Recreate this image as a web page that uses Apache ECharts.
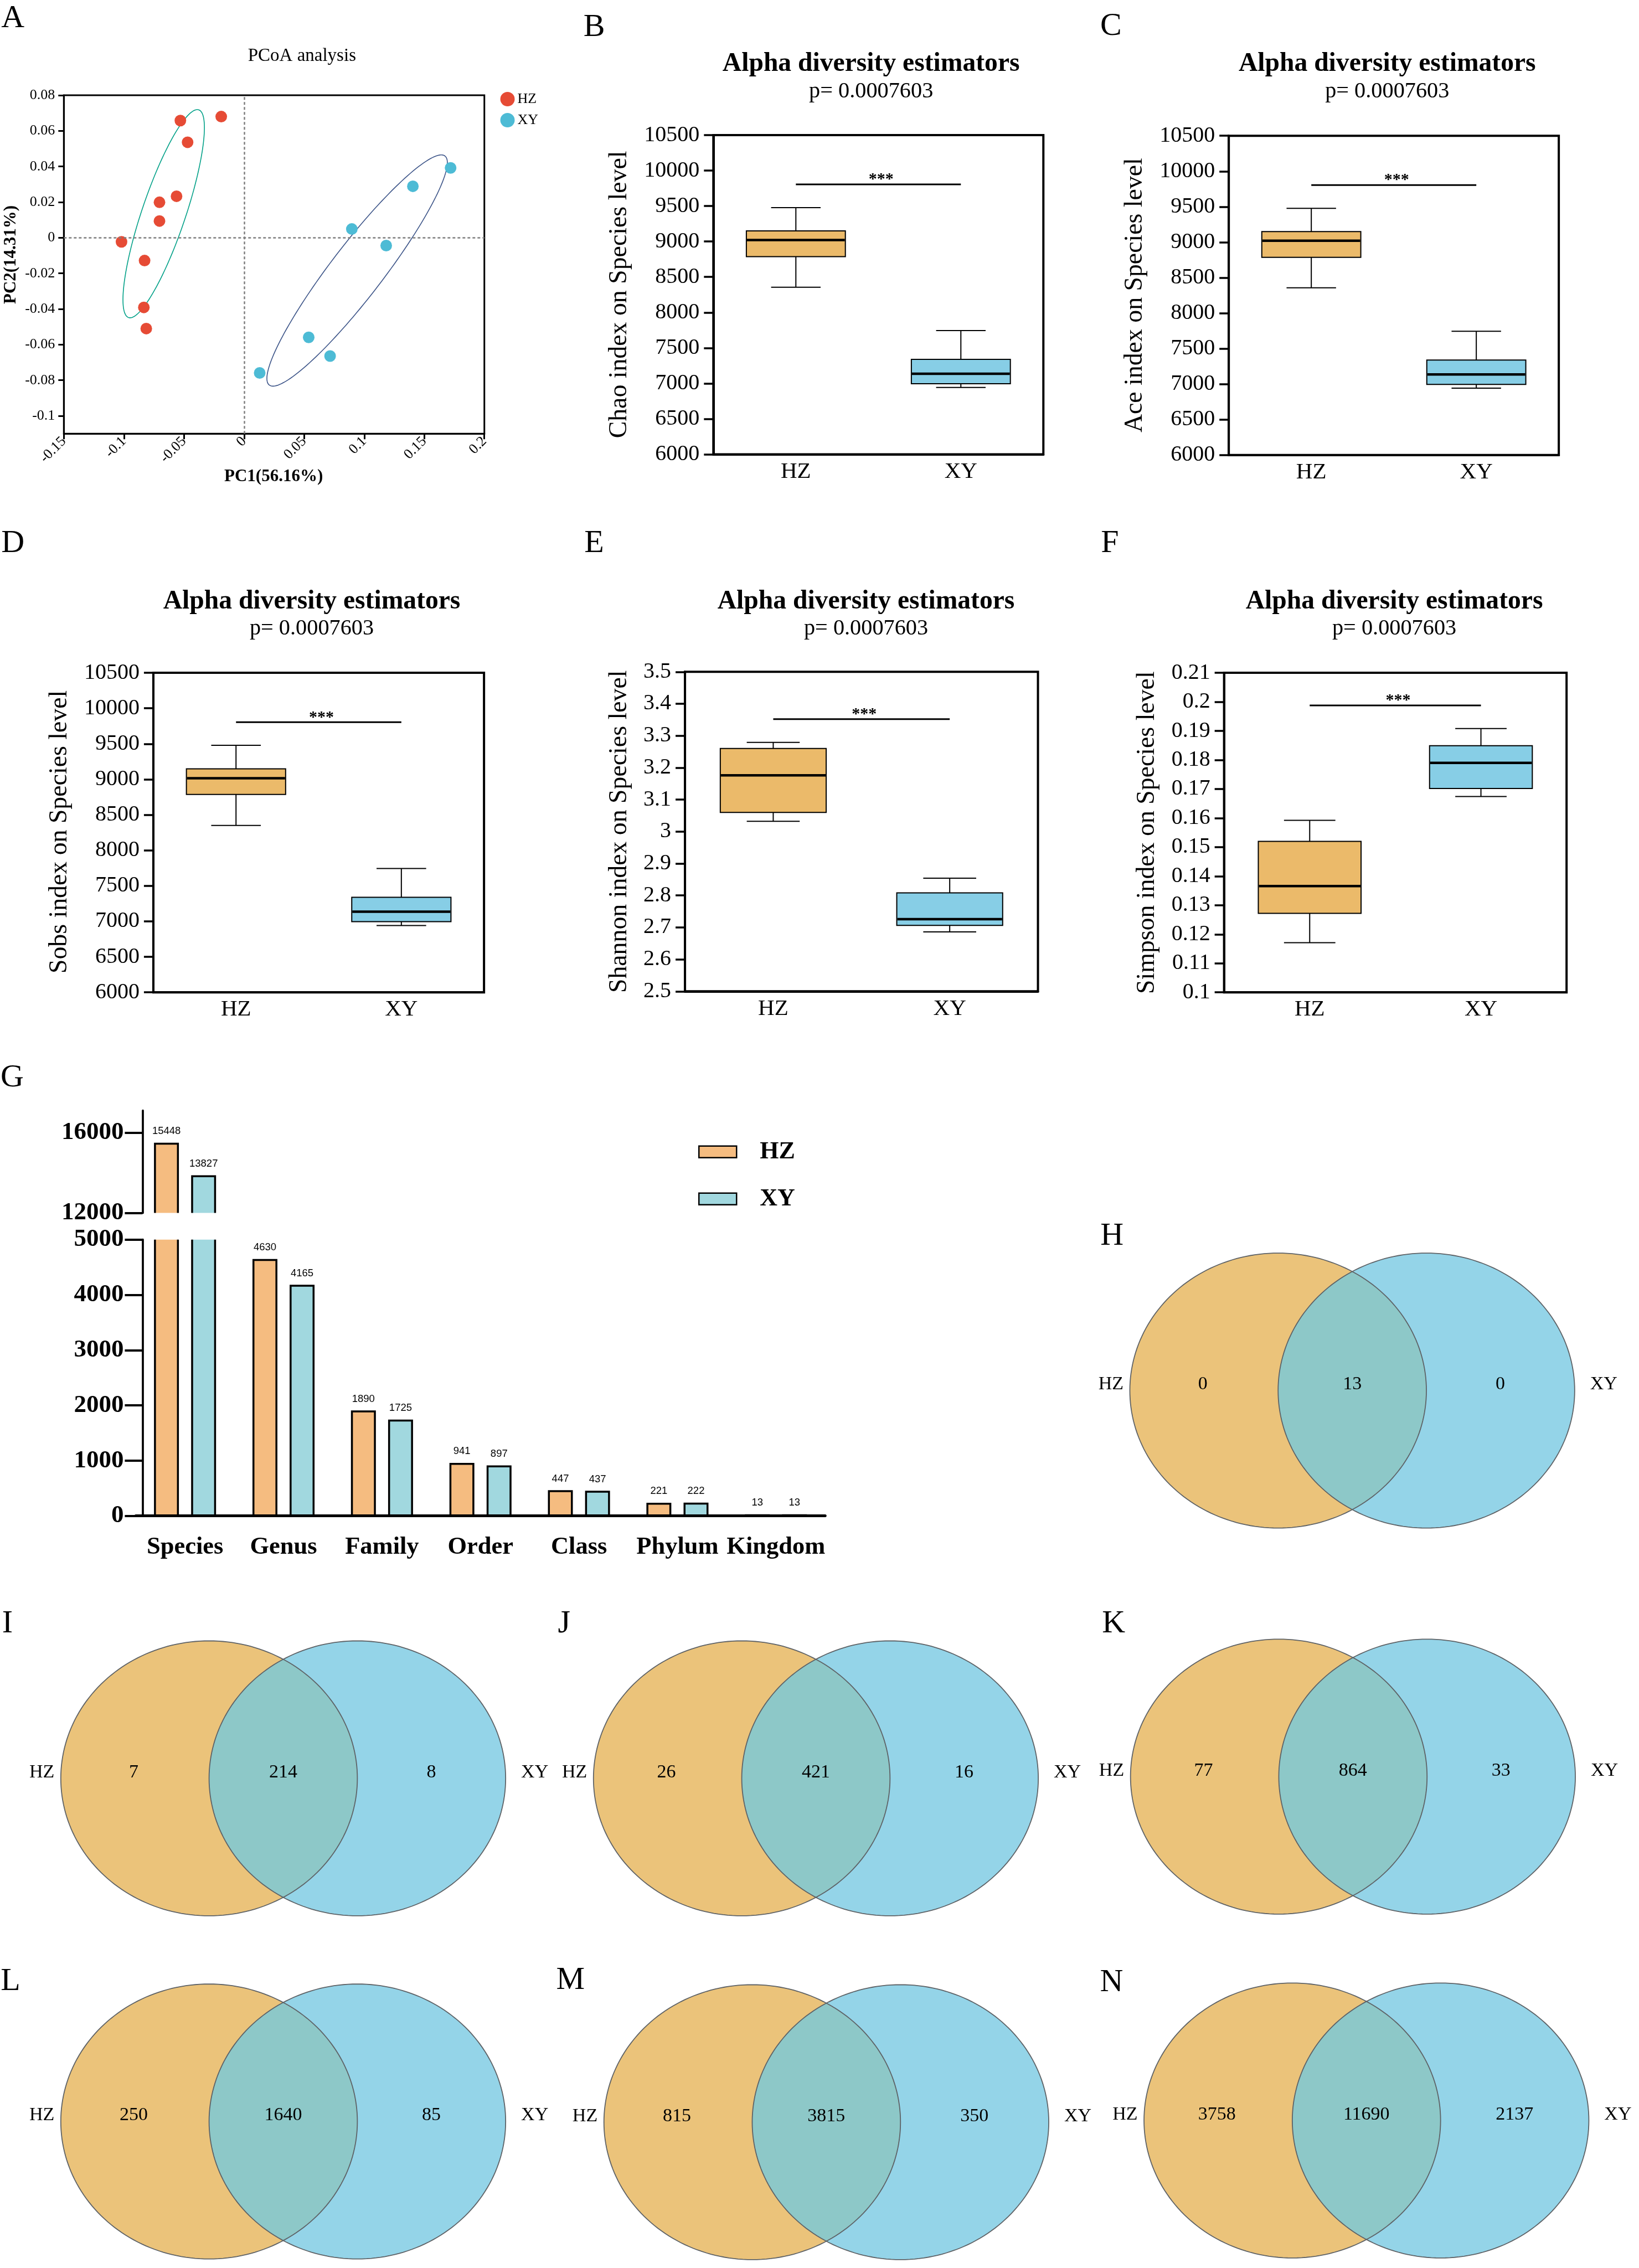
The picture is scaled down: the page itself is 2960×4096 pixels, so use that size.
<!DOCTYPE html>
<html><head><meta charset="utf-8">
<script src="https://cdn.jsdelivr.net/npm/echarts@6/dist/echarts.min.js"></script>
<style>html,body{margin:0;padding:0;background:#fff}#c{width:2960px;height:4096px}</style>
</head><body><div id="c"></div>
<script>
// ================= DATA =================
const groups = ['HZ', 'XY'];

// A: PCoA sample scores [PC1, PC2]
const pcoaHZ = [[-0.053,0.0658],[-0.019,0.068],[-0.047,0.0536],[-0.0562,0.0233],[-0.0704,0.0199],
                [-0.0704,0.0094],[-0.102,-0.0023],[-0.0828,-0.0128],[-0.0834,-0.0391],[-0.0814,-0.051]];
const pcoaXY = [[0.1719,0.0392],[0.1405,0.0289],[0.0897,0.0049],[0.1183,-0.0044],
                [0.0538,-0.0559],[0.0716,-0.0664],[0.0130,-0.0759]];
// confidence ellipses: centre x, centre y, semi-major vector (x,y), semi-minor vector (x,y)
const ellipseHZ = [-0.0669, 0.0135, 0.0292, 0.0583, 0.0172, -0.0039];
const ellipseXY = [0.0941, -0.0184, 0.0731, 0.0643, 0.0172, -0.00886];
const pcoaYTicks = [-0.1,-0.08,-0.06,-0.04,-0.02,0,0.02,0.04,0.06,0.08];

// B-F: box plots [min, Q1, median, Q3, max]
const chaoHZ = [8356, 8787, 9021, 9149, 9478];
const chaoXY = [6942, 6995, 7136, 7339, 7744];
const aceHZ = [8356, 8787, 9021, 9149, 9478];
const aceXY = [6942, 6995, 7136, 7339, 7744];
const sobsHZ = [8351, 8787, 9016, 9148, 9479];
const sobsXY = [6942, 6995, 7136, 7339, 7744];
const shannonHZ = [3.032, 3.060, 3.176, 3.260, 3.279];
const shannonXY = [2.686, 2.7065, 2.726, 2.808, 2.854];
const simpsonHZ = [0.1171, 0.1272, 0.1366, 0.1520, 0.1592];
const simpsonXY = [0.1674, 0.1702, 0.1790, 0.1849, 0.1908];
const sigChao = 9805, sigAce = 9805, sigSobs = 9804, sigShannon = 3.352, sigSimpson = 0.1988;
const pText = 'p= 0.0007603';

// G: taxa counts
const taxLevels = ['Species','Genus','Family','Order','Class','Phylum','Kingdom'];
const countsHZ = [15448, 4630, 1890, 941, 447, 221, 13];
const countsXY = [13827, 4165, 1725, 897, 437, 222, 13];
const upperTicks = [12000, 16000];

// H-N: Venn counts
const vennPanels = ['H','I','J','K','L','M','N'];
const vennHZonly = [0, 7, 26, 77, 250, 815, 3758];
const vennShared = [13, 214, 421, 864, 1640, 3815, 11690];
const vennXYonly = [0, 8, 16, 33, 85, 350, 2137];

// ================= LAYOUT (reference pixels, scaled by S) =================
const S = 0.61;
const px = v => v * S;
const SERIF = '"Liberation Serif", "Times New Roman", serif';
const SANS = '"Liberation Sans", Arial, sans-serif';
const plainInt = v => String(Math.round(v));
function gridBox(l, t, r, b, extra) {
  return Object.assign({left: px(l), top: px(t), width: px(r - l), height: px(b - t)}, extra || {});
}
const frame = {show: true, borderColor: '#000', borderWidth: 4, backgroundColor: 'transparent'};
const grids = [
  gridBox(189, 282, 1434, 1284, {show: true, borderColor: '#000', borderWidth: 3}), // A
  gridBox(2112, 400, 3089, 1345, frame),  // B
  gridBox(3638, 402, 4615, 1347, frame),  // C
  gridBox(454, 1992, 1433, 2938, frame),  // D
  gridBox(2028, 1989, 3073, 2935, frame), // E
  gridBox(3624, 1992, 4638, 2938, frame), // F
  gridBox(402, 3288, 2443, 3591),         // G upper
  gridBox(402, 3670, 2443, 4488)          // G lower
];
const vennCenters = [[3784,4117],[619,5265],[2196,5265],[3786,5260],[619,6281],[2227,6283],[3826,6278]];

const boxColors = ['#EBBA6A', '#87CEE6'];
const barColors = ['#F5BC80', '#A1D8DF'];

const xAxes = [], yAxes = [], series = [];

// ---------- A: PCoA ----------
xAxes.push({gridIndex: 0, type: 'value', min: -0.15, max: 0.2, interval: 0.05,
  axisLine: {onZero: false, lineStyle: {color: '#000', width: 3}},
  axisTick: {length: 10, lineStyle: {color: '#000', width: 3}},
  axisLabel: {rotate: 45, color: '#000', fontSize: 26, fontFamily: SERIF, margin: 10},
  splitLine: {show: false}});
yAxes.push({gridIndex: 0, type: 'value', min: -0.11, max: 0.08,
  axisLine: {show: true, onZero: false, lineStyle: {color: '#000', width: 3}},
  axisTick: {show: true, length: 10, customValues: pcoaYTicks, lineStyle: {color: '#000', width: 3}},
  axisLabel: {customValues: pcoaYTicks, color: '#000', fontSize: 26, fontFamily: SERIF, margin: 16},
  splitLine: {show: false}});
series.push({type: 'line', xAxisIndex: 0, yAxisIndex: 0, data: [], z: 1, silent: true,
  markLine: {silent: true, symbol: 'none', label: {show: false},
    lineStyle: {color: '#7F7F7F', type: [5, 4], width: 2.5},
    data: [{xAxis: 0}, {yAxis: 0}]}});
const ellColors = ['#00A087', '#3C5488'];
series.push({type: 'custom', name: 'ellipses', xAxisIndex: 0, yAxisIndex: 0, z: 2,
  data: [ellipseHZ, ellipseXY],
  renderItem: function (params, api) {
    const e = [0,1,2,3,4,5].map(k => api.value(k));
    const pts = [];
    for (let k = 0; k < 160; k++) {
      const t = k / 160 * 2 * Math.PI;
      pts.push(api.coord([e[0] + e[2] * Math.cos(t) + e[4] * Math.sin(t),
                          e[1] + e[3] * Math.cos(t) + e[5] * Math.sin(t)]));
    }
    return {type: 'polygon', shape: {points: pts},
      style: {fill: 'none', stroke: ellColors[params.dataIndex], lineWidth: 1.6}};
  }});
series.push({type: 'scatter', name: 'HZ', xAxisIndex: 0, yAxisIndex: 0, z: 3, data: pcoaHZ,
  symbolSize: 21, itemStyle: {color: '#E64B35', opacity: 1}});
series.push({type: 'scatter', name: 'XY', xAxisIndex: 0, yAxisIndex: 0, z: 3, data: pcoaXY,
  symbolSize: 21, itemStyle: {color: '#4DBBD5', opacity: 1}});

// ---------- B-F: box plots ----------
const boxPanels = [
  {grid: 1, hz: chaoHZ, xy: chaoXY, min: 6000, max: 10500, step: 500, sig: sigChao, fmt: plainInt},
  {grid: 2, hz: aceHZ, xy: aceXY, min: 6000, max: 10500, step: 500, sig: sigAce, fmt: plainInt},
  {grid: 3, hz: sobsHZ, xy: sobsXY, min: 6000, max: 10500, step: 500, sig: sigSobs, fmt: plainInt},
  {grid: 4, hz: shannonHZ, xy: shannonXY, min: 2.5, max: 3.5, step: 0.1, sig: sigShannon, fmt: null},
  {grid: 5, hz: simpsonHZ, xy: simpsonXY, min: 0.1, max: 0.21, step: 0.01, sig: sigSimpson, fmt: null}
];
function boxRender(params, api) {
  const cat = api.value(0);
  const v = [1,2,3,4,5].map(k => api.value(k));
  const band = api.size([1, 0])[0];
  const x = api.coord([cat, v[2]])[0];
  const y = val => api.coord([cat, val])[1];
  const bw = band * 0.6, cw = band * 0.3;
  const ls = {stroke: '#000', lineWidth: 2};
  return {type: 'group', children: [
    {type: 'line', shape: {x1: x, y1: y(v[4]), x2: x, y2: y(v[3])}, style: ls},
    {type: 'line', shape: {x1: x, y1: y(v[1]), x2: x, y2: y(v[0])}, style: ls},
    {type: 'line', shape: {x1: x - cw / 2, y1: y(v[4]), x2: x + cw / 2, y2: y(v[4])}, style: ls},
    {type: 'line', shape: {x1: x - cw / 2, y1: y(v[0]), x2: x + cw / 2, y2: y(v[0])}, style: ls},
    {type: 'rect', shape: {x: x - bw / 2, y: y(v[3]), width: bw, height: y(v[1]) - y(v[3])},
      style: {fill: boxColors[cat], stroke: '#000', lineWidth: 2}},
    {type: 'line', shape: {x1: x - bw / 2 + 1, y1: y(v[2]), x2: x + bw / 2 - 1, y2: y(v[2])},
      style: {stroke: '#000', lineWidth: 4.5}}
  ]};
}
function sigRender(params, api) {
  const s = api.value(0);
  const p0 = api.coord([0, s]), p1 = api.coord([1, s]);
  return {type: 'group', children: [
    {type: 'line', shape: {x1: p0[0], y1: p0[1], x2: p1[0], y2: p1[1]}, style: {stroke: '#000', lineWidth: 3}},
    {type: 'text', x: (p0[0] + p1[0]) / 2 + 5, y: p0[1] - 8.5,
      style: {text: '***', fontSize: 30, fontWeight: 'bold', fontFamily: SERIF, fill: '#000',
        align: 'center', verticalAlign: 'middle'}}
  ]};
}
boxPanels.forEach(bp => {
  const ai = xAxes.length;
  xAxes.push({gridIndex: bp.grid, type: 'category', data: groups,
    axisLine: {lineStyle: {color: '#000', width: 4}},
    axisTick: {alignWithLabel: true, length: 11, lineStyle: {color: '#000', width: 3.5}},
    axisLabel: {color: '#000', fontSize: 41, fontFamily: SERIF, margin: 11},
    splitLine: {show: false}});
  const yl = {color: '#000', fontSize: 40, fontFamily: SERIF, margin: 25};
  if (bp.fmt) yl.formatter = bp.fmt;
  yAxes.push({gridIndex: bp.grid, type: 'value', min: bp.min, max: bp.max, interval: bp.step,
    axisLine: {show: true, lineStyle: {color: '#000', width: 4}},
    axisTick: {show: true, length: 17, lineStyle: {color: '#000', width: 3.5}},
    axisLabel: yl,
    splitLine: {show: false}});
  series.push({type: 'custom', name: 'box' + bp.grid, xAxisIndex: ai, yAxisIndex: ai, z: 3,
    data: [[0].concat(bp.hz), [1].concat(bp.xy)], renderItem: boxRender});
  series.push({type: 'custom', name: 'sig' + bp.grid, xAxisIndex: ai, yAxisIndex: ai, z: 3,
    data: [[bp.sig]], renderItem: sigRender});
});

// ---------- G: broken-axis bar chart ----------
const gU = xAxes.length;
xAxes.push({gridIndex: 6, type: 'category', data: taxLevels, show: false});
yAxes.push({gridIndex: 6, type: 'value', min: 12000, max: 17100, offset: -px(20),
  axisLine: {show: true, lineStyle: {color: '#000', width: 3.7}},
  axisTick: {show: true, length: 32, customValues: upperTicks, lineStyle: {color: '#000', width: 4}},
  axisLabel: {customValues: upperTicks, formatter: plainInt, color: '#000', fontSize: 45, fontWeight: 'bold', fontFamily: SERIF, margin: 34},
  splitLine: {show: false}});
const gL = xAxes.length;
xAxes.push({gridIndex: 7, type: 'category', data: taxLevels, z: 6,
  axisLine: {lineStyle: {color: '#000', width: 5}},
  axisTick: {alignWithLabel: true, length: 27, lineStyle: {color: '#000', width: 4}},
  axisLabel: {interval: 0, color: '#000', fontSize: 44.5, fontWeight: 'bold', fontFamily: SERIF, margin: 34},
  splitLine: {show: false}});
yAxes.push({gridIndex: 7, type: 'value', min: 0, max: 5000, interval: 1000, offset: -px(20),
  axisLine: {show: true, lineStyle: {color: '#000', width: 3.7}},
  axisTick: {show: true, length: 32, lineStyle: {color: '#000', width: 4}},
  axisLabel: {formatter: plainInt, color: '#000', fontSize: 45, fontWeight: 'bold', fontFamily: SERIF, margin: 34},
  splitLine: {show: false}});

function makeBarRender(sign, color, ymin, ymax) {
  return function (params, api) {
    const cat = api.value(0), v = api.value(1);
    if (v <= ymin) return null;
    const vt = Math.min(v, ymax);
    const top = api.coord([cat, vt]);
    const base = api.coord([cat, ymin]);
    const cx = top[0] + sign * px(55);
    const w = px(68);
    const x0 = cx - w / 2, x1 = cx + w / 2;
    const bs = {stroke: '#000', lineWidth: 3.5, fill: null};
    const ch = [{type: 'rect', shape: {x: x0, y: top[1], width: w, height: base[1] - top[1]}, style: {fill: color}}];
    if (v <= ymax) {
      ch.push({type: 'polyline', shape: {points: [[x0, base[1]], [x0, top[1]], [x1, top[1]], [x1, base[1]]]}, style: bs});
      ch.push({type: 'text', x: cx, y: top[1] - px(37),
        style: {text: String(v), fontSize: 18.5, fontFamily: SANS, fill: '#000', align: 'center', verticalAlign: 'middle'}});
    } else {
      ch.push({type: 'line', shape: {x1: x0, y1: top[1], x2: x0, y2: base[1]}, style: bs});
      ch.push({type: 'line', shape: {x1: x1, y1: top[1], x2: x1, y2: base[1]}, style: bs});
    }
    return {type: 'group', children: ch};
  };
}
const hzBars = countsHZ.map((v, i) => [i, v]);
const xyBars = countsXY.map((v, i) => [i, v]);
series.push({type: 'custom', name: 'HZ', xAxisIndex: gU, yAxisIndex: gU, data: hzBars, itemStyle: {color: barColors[0]},
  renderItem: makeBarRender(-1, barColors[0], 12000, 17100)});
series.push({type: 'custom', name: 'XY', xAxisIndex: gU, yAxisIndex: gU, data: xyBars, itemStyle: {color: barColors[1]},
  renderItem: makeBarRender(1, barColors[1], 12000, 17100)});
series.push({type: 'custom', name: 'HZ', xAxisIndex: gL, yAxisIndex: gL, data: hzBars, itemStyle: {color: barColors[0]},
  renderItem: makeBarRender(-1, barColors[0], 0, 5000)});
series.push({type: 'custom', name: 'XY', xAxisIndex: gL, yAxisIndex: gL, data: xyBars, itemStyle: {color: barColors[1]},
  renderItem: makeBarRender(1, barColors[1], 0, 5000)});

// ---------- H-N: Venn diagrams ----------
function ellPts(cx, cy, rx, ry, t0, t1, n) {
  const pts = [];
  for (let k = 0; k <= n; k++) {
    const t = t0 + (t1 - t0) * k / n;
    pts.push([cx + rx * Math.cos(t), cy + ry * Math.sin(t)]);
  }
  return pts;
}
series.push({type: 'custom', name: 'venn', coordinateSystem: 'none', silent: true,
  data: vennPanels.map((p, i) => [i, vennHZonly[i], vennShared[i], vennXYonly[i]]),
  renderItem: function (params, api) {
    const i = api.value(0);
    const cx = px(vennCenters[i][0]), cy = px(vennCenters[i][1]);
    const rx = px(439), ry = px(407), d = px(439);
    const th = Math.acos(d / (2 * rx));
    const full = 2 * Math.PI;
    const lens = ellPts(cx, cy, rx, ry, -th, th, 60).concat(ellPts(cx + d, cy, rx, ry, Math.PI - th, Math.PI + th, 60));
    const stroke = {fill: 'none', stroke: '#5E6266', lineWidth: 1.8};
    const ty = cy - px(18);
    const txt = (x, s) => ({type: 'text', x: x, y: ty,
      style: {text: String(s), fontSize: 34, fontFamily: SERIF, fill: '#000', align: 'center', verticalAlign: 'middle'}});
    return {type: 'group', children: [
      {type: 'polygon', shape: {points: ellPts(cx, cy, rx, ry, 0, full, 200)}, style: {fill: '#EBC37A'}},
      {type: 'polygon', shape: {points: ellPts(cx + d, cy, rx, ry, 0, full, 200)}, style: {fill: '#94D4E8'}},
      {type: 'polygon', shape: {points: lens}, style: {fill: '#8DC8C8'}},
      {type: 'polygon', shape: {points: ellPts(cx, cy, rx, ry, 0, full, 200)}, style: stroke},
      {type: 'polygon', shape: {points: ellPts(cx + d, cy, rx, ry, 0, full, 200)}, style: stroke},
      txt(cx - px(495), 'HZ'),
      txt(cx - px(223), api.value(1)),
      txt(cx + d / 2, api.value(2)),
      txt(cx + d + px(219), api.value(3)),
      txt(cx + px(964), 'XY')
    ]};
  }});

// ---------- text elements ----------
const letters = [['A',38,55],['B',1759,81],['C',3289,79],['D',38,1610],['E',1759,1609],['F',3286,1610],
  ['G',36,3191],['H',3292,3660],['I',22,4807],['J',1670,4807],['K',3297,4807],['L',31,5867],['M',1689,5864],['N',3291,5870]];
const texts = [];
letters.forEach(l => texts.push({t: l[0], x: l[1], y: l[2], size: 58}));
texts.push({t: 'PCoA analysis', x: 894, y: 166, size: 33});
texts.push({t: 'PC1(56.16%)', x: 810, y: 1411, size: 31, bold: true});
texts.push({t: 'PC2(14.31%)', x: 32, y: 754, size: 31, bold: true, rot: true});
const boxTitles = [[2579, 190, 271], [4107, 190, 271], [923, 1781, 1862], [2564, 1781, 1862], [4128, 1781, 1862]];
boxTitles.forEach(b => {
  texts.push({t: 'Alpha diversity estimators', x: b[0], y: b[1], size: 47.6, bold: true});
  texts.push({t: pText, x: b[0], y: b[2], size: 40.3});
});
texts.push({t: 'Chao index on Species level', x: 1834, y: 872, size: 45.8, rot: true});
texts.push({t: 'Ace index on Species level', x: 3360, y: 874, size: 45.8, rot: true});
texts.push({t: 'Sobs index on Species level', x: 177, y: 2463, size: 45.8, rot: true});
texts.push({t: 'Shannon index on Species level', x: 1834, y: 2462, size: 45.8, rot: true});
texts.push({t: 'Simpson index on Species level', x: 3396, y: 2465, size: 45.8, rot: true});

const graphicEls = texts.map(t => ({type: 'text', x: px(t.x), y: px(t.y), rotation: t.rot ? Math.PI / 2 : 0, silent: true,
  style: {text: t.t, fontSize: t.size, fontWeight: t.bold ? 'bold' : 'normal', fontFamily: SERIF, fill: '#000',
    align: 'center', verticalAlign: 'middle'}}));

const chart = echarts.init(document.getElementById('c'), null, {renderer: 'canvas'});
chart.setOption({
  animation: false,
  backgroundColor: '#fff',
  textStyle: {fontFamily: SERIF},
  grid: grids,
  xAxis: xAxes,
  yAxis: yAxes,
  legend: [
    {orient: 'vertical', left: px(1473), top: px(264), itemWidth: 26, itemHeight: 26, itemGap: 12,
      selectedMode: false,
      textStyle: {fontSize: 26, fontFamily: SERIF, color: '#000'},
      data: [{name: 'HZ', icon: 'circle', itemStyle: {color: '#E64B35', borderWidth: 0}},
             {name: 'XY', icon: 'circle', itemStyle: {color: '#4DBBD5', borderWidth: 0}}]},
    {orient: 'vertical', left: px(2059), top: px(3402) - 22, itemWidth: 68, itemHeight: 21, itemGap: 41,
      selectedMode: false,
      textStyle: {fontSize: 44, fontWeight: 'bold', fontFamily: SERIF, color: '#000', padding: [0, 0, 0, 37]},
      data: [{name: 'HZ', icon: 'rect', itemStyle: {color: barColors[0], borderColor: '#000', borderWidth: 2.5}},
             {name: 'XY', icon: 'rect', itemStyle: {color: barColors[1], borderColor: '#000', borderWidth: 2.5}}]}
  ],
  graphic: {elements: graphicEls},
  series: series
});
</script></body></html>
